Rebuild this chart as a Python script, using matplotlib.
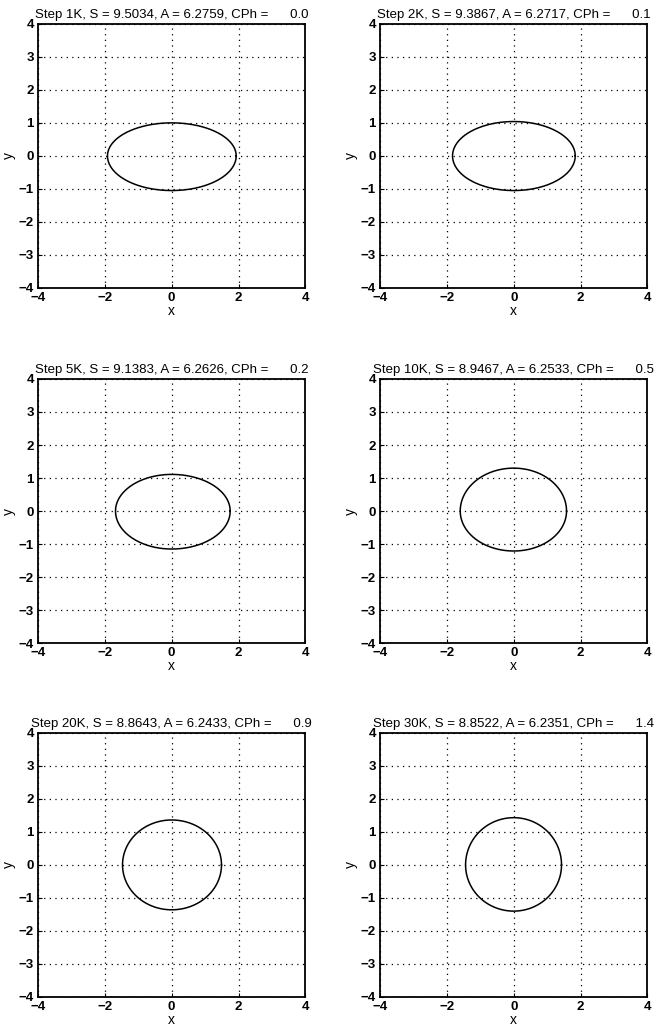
import numpy as np
import matplotlib
matplotlib.use('Agg')
import matplotlib.pyplot as plt

plt.rcParams['font.family'] = ['Liberation Sans', 'DejaVu Sans']

steps = [1, 2, 5, 10, 20, 30]
S_vals = [9.5034, 9.3867, 9.1383, 8.9467, 8.8643, 8.8522]
A_vals = [6.2759, 6.2717, 6.2626, 6.2533, 6.2433, 6.2351]
cph_vals = [0.0, 0.1, 0.2, 0.5, 0.9, 1.4]

# curve extents
x_left = [-1.92, -1.83, -1.68, -1.60, -1.47, -1.44]
x_right = [1.93, 1.84, 1.75, 1.58, 1.49, 1.43]
y_bottom = [-1.05, -1.05, -1.15, -1.21, -1.36, -1.40]
y_top = [1.00, 1.04, 1.11, 1.30, 1.36, 1.43]

ticks = [-4, -2, 0, 2, 4]
yticks = [-4, -3, -2, -1, 0, 1, 2, 3, 4]

fig = plt.figure(figsize=(6.54, 10.34), dpi=100)

col_left = [0.058, 0.581]
ax_w = 0.409
row_bottom = [0.7215, 0.378, 0.0358]
ax_h = 0.2555

t = np.linspace(0, 2 * np.pi, 400)
for i in range(6):
    r, c = divmod(i, 2)
    ax = fig.add_axes([col_left[c], row_bottom[r], ax_w, ax_h])

    cx, sy = np.cos(t), np.sin(t)
    xs = np.where(cx >= 0, cx * x_right[i], -cx * x_left[i])
    ys = np.where(sy >= 0, sy * y_top[i], -sy * y_bottom[i])
    ax.plot(xs, ys, color='black', linewidth=1.1)

    ax.set_xlim(-4, 4)
    ax.set_ylim(-4, 4)
    ax.set_xticks(ticks)
    ax.set_yticks(yticks)
    ax.set_xticklabels(['\u22124', '\u22122', '0', '2', '4'], fontweight='bold')
    ax.set_yticklabels(['\u22124', '\u22123', '\u22122', '\u22121', '0', '1', '2', '3', '4'],
                       fontweight='bold')
    ax.tick_params(direction='in', length=3, labelsize=9.5, pad=3, width=0.8)
    ax.grid(True, linestyle=(0, (1, 3.5)), color='black', linewidth=0.9)
    for sp in ax.spines.values():
        sp.set_linewidth(1.3)
    ax.set_xlabel('x', fontsize=10, labelpad=0)
    ax.set_ylabel('y', fontsize=10, labelpad=2)

    title = 'Step %dK, S = %.4f, A = %.4f, CPh = %8.1f' % (steps[i], S_vals[i], A_vals[i], cph_vals[i])
    ax.set_title(title, fontsize=9.5, pad=4)

plt.savefig('out.png', dpi=100)
